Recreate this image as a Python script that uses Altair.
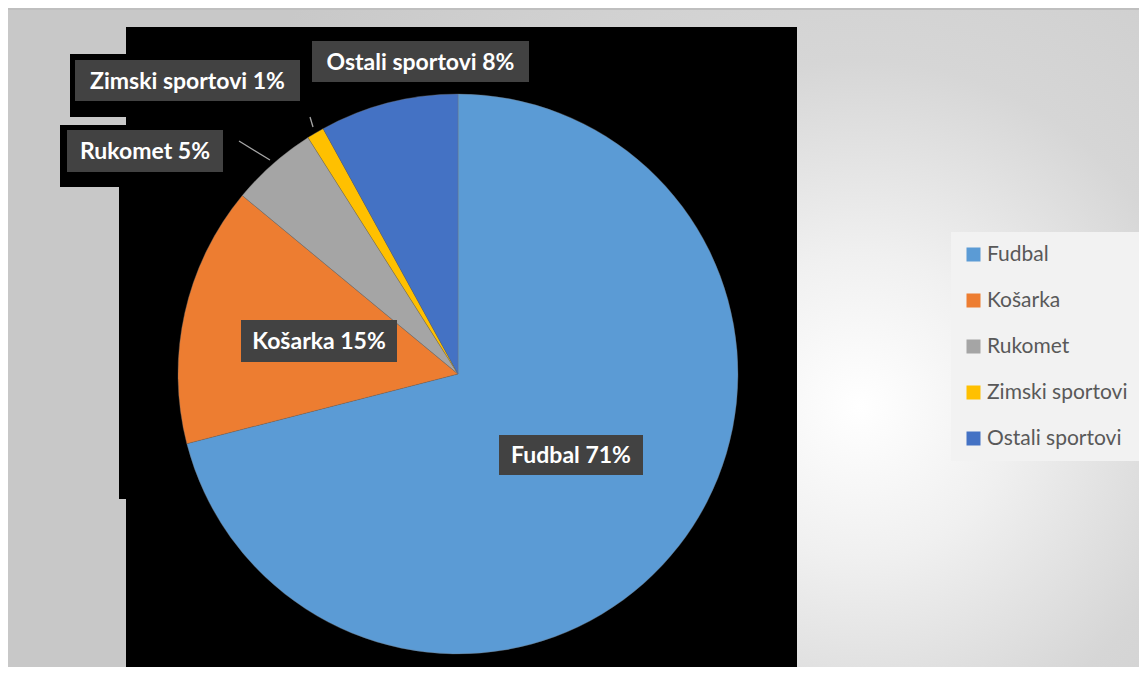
import altair as alt
import pandas as pd

# ---- data ----
categories = ["Fudbal", "Košarka", "Rukomet", "Zimski sportovi", "Ostali sportovi"]
shares = [71, 15, 5, 1, 8]
label_texts = ["Fudbal 71%", "Košarka 15%", "Rukomet 5%", "Zimski sportovi 1%", "Ostali sportovi 8%"]
colors = ["#5b9bd5", "#ed7d31", "#a5a5a5", "#ffc000", "#4472c4"]

# ---- layout (page pixels, converted to plot pixels below) ----
W, H = 1131, 659
OFF = 8
PIE_CX, PIE_CY, PIE_R = 458, 374, 280
# grey label boxes: (x1, y1, x2, y2)
label_boxes = [(499, 435, 643, 475), (241, 320, 397, 362), (67, 130, 223, 172),
               (75, 60, 300, 101), (312, 41, 529, 82)]
# black artefact regions
black_regions = [(126, 27, 797, 675), (119, 187, 126, 499), (70, 54, 126, 117),
                 (60, 125, 126, 187), (493, 427, 659, 491), (235, 314, 414, 377)]
leaders = [(239, 141, 270, 160), (310, 117, 313, 127)]


def shift(rows):
    return pd.DataFrame([{"x": a - OFF, "y": b - OFF, "x2": c - OFF, "y2": d - OFF}
                         for a, b, c, d in rows])


pie_df = pd.DataFrame({"category": categories, "share": shares,
                       "idx": list(range(len(categories)))})
lab_df = shift(label_boxes)
lab_df["text"] = label_texts
lab_df["cx"] = (lab_df["x"] + lab_df["x2"]) / 2
lab_df["cy"] = (lab_df["y"] + lab_df["y2"]) / 2 + 1

bg = alt.Chart(pd.DataFrame({"a": [0]})).mark_rect(
    color=alt.Gradient(
        gradient="radial", x1=0.74, y1=0.55, x2=0.74, y2=0.55, r1=0, r2=0.6,
        stops=[alt.GradientStop(color="#ffffff", offset=0),
               alt.GradientStop(color="#f0f0f0", offset=0.22),
               alt.GradientStop(color="#d6d6d6", offset=0.5),
               alt.GradientStop(color="#c8c8c8", offset=1)]),
).encode(x=alt.value(0), x2=alt.value(W + 20), y=alt.value(1), y2=alt.value(H + 20))

top_line = alt.Chart(pd.DataFrame({"a": [0]})).mark_rule(color="#bfbfbf", strokeWidth=2).encode(
    x=alt.value(0), x2=alt.value(W), y=alt.value(1))

black = alt.Chart(shift(black_regions)).mark_rect(color="#000000").encode(
    x=alt.X("x:Q", scale=None), x2="x2:Q",
    y=alt.Y("y:Q", scale=None), y2="y2:Q")

pie = alt.Chart(pie_df).mark_arc(outerRadius=PIE_R, stroke="#707070", strokeWidth=0.6,
                                 strokeOpacity=0.6).encode(
    theta=alt.Theta("share:Q", stack=True),
    order=alt.Order("idx:Q"),
    color=alt.Color("category:N", sort=categories,
                    scale=alt.Scale(domain=categories, range=colors),
                    legend=alt.Legend(title=None, orient="none",
                                      legendX=943, legendY=224,
                                      fillColor="#f2f2f2", padding=12,
                                      symbolType="square", symbolSize=196,
                                      symbolStrokeWidth=0, labelFontSize=21,
                                      labelFont="Lato", labelColor="#595959",
                                      rowPadding=24, labelOffset=3,
                                      labelLimit=300)),
    x=alt.value(PIE_CX - OFF), y=alt.value(PIE_CY - OFF))

lead = alt.Chart(shift(leaders)).mark_rule(color="#a6a6a6", strokeWidth=1.3).encode(
    x=alt.X("x:Q", scale=None), x2="x2:Q",
    y=alt.Y("y:Q", scale=None), y2="y2:Q")

boxes = alt.Chart(lab_df).mark_rect(color="#424242").encode(
    x=alt.X("x:Q", scale=None), x2="x2:Q",
    y=alt.Y("y:Q", scale=None), y2="y2:Q")

texts = alt.Chart(lab_df).mark_text(font="Lato", fontWeight="bold", fontSize=23,
                                    color="#ffffff", align="center",
                                    baseline="middle").encode(
    x=alt.X("cx:Q", scale=None), y=alt.Y("cy:Q", scale=None), text="text:N")

chart = alt.layer(bg, top_line, black, pie, lead, boxes, texts).properties(
    width=W, height=H, padding=0,
    autosize=alt.AutoSizeParams(type="none"),
).configure_view(stroke=None)

chart.save("out.html", embed_options={"renderer": "svg", "actions": False})
